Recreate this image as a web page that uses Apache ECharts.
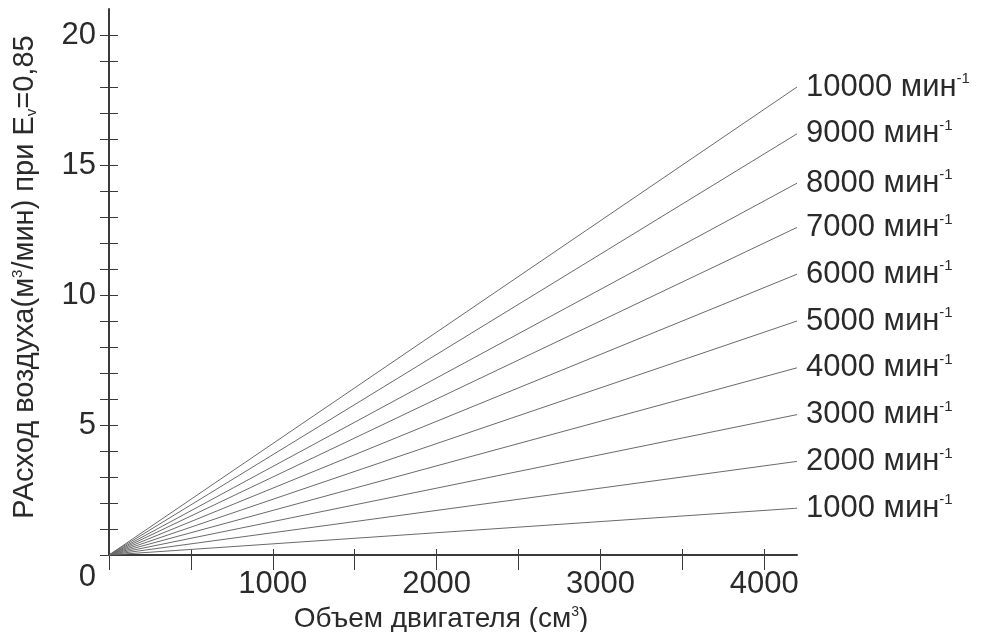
<!DOCTYPE html>
<html>
<head>
<meta charset="utf-8">
<script src="https://cdn.jsdelivr.net/npm/echarts@6/dist/echarts.min.js"></script>
<style>
  html, body { margin: 0; padding: 0; background: #fff; }
  #chart { width: 994px; height: 632px; }
</style>
</head>
<body>
<div id="chart"></div>
<script>
// частота вращения, мин-1
var speeds = [1000, 2000, 3000, 4000, 5000, 6000, 7000, 8000, 9000, 10000];
// объем двигателя, см3 (начало и конец каждой линии)
var volumes = [0, 4200];
// расход воздуха в конце линии (при 4200 см3), м3/мин
var endFlow = [1.8, 3.6, 5.4, 7.2, 9.0, 10.8, 12.6, 14.3, 16.2, 18.0];

var xTicks = [0, 500, 1000, 1500, 2000, 2500, 3000, 3500, 4000];
var xLabels = [1000, 2000, 3000, 4000];
var yTicks = [0, 1, 2, 3, 4, 5, 6, 7, 8, 9, 10, 11, 12, 13, 14, 15, 16, 17, 18, 19, 20];
var yLabels = [0, 5, 10, 15, 20];

var font = '"Liberation Sans", Arial, sans-serif';
var txt = '#2a2a2a';
var axisColor = '#3a3a3a';

var chart = echarts.init(document.getElementById('chart'));

var series = speeds.map(function (n, i) {
    return {
        name: n + '',
        type: 'line',
        showSymbol: false,
        silent: true,
        lineStyle: { color: '#6a6a6a', width: 1 },
        data: [[volumes[0], 0], [volumes[1], endFlow[i]]],
        endLabel: {
            show: true,
            distance: 9,
            formatter: function () { return '{a|' + n + ' мин}{s|-1}'; },
            rich: {
                a: { fontFamily: font, fontSize: 31, color: txt },
                s: { fontFamily: font, fontSize: 15, color: txt, verticalAlign: 'top' }
            }
        }
    };
});

function xAxisBase(inside) {
    return {
        type: 'value',
        position: 'bottom',
        min: 0,
        max: 4200,
        axisLine: { show: !inside, onZero: false, lineStyle: { color: axisColor, width: 2 } },
        axisTick: {
            show: true, inside: inside, length: inside ? 6 : 15,
            customValues: xTicks,
            lineStyle: { color: axisColor, width: 1 }
        },
        axisLabel: {
            show: !inside,
            customValues: xLabels,
            margin: 14,
            formatter: function (v) { return String(v); },
            fontFamily: font, fontSize: 31, color: txt
        },
        splitLine: { show: false }
    };
}

function yAxisBase(inside) {
    return {
        type: 'value',
        position: 'left',
        min: 0,
        max: 21,
        axisLine: { show: !inside, onZero: false, lineStyle: { color: axisColor, width: 2 } },
        axisTick: {
            show: true, inside: inside, length: 9,
            customValues: yTicks,
            lineStyle: { color: axisColor, width: 1 }
        },
        axisLabel: {
            show: !inside,
            customValues: yLabels,
            margin: 13,
            formatter: function (v) { return v === 0 ? '{z|0}' : String(v); },
            rich: { z: { fontFamily: font, fontSize: 31, color: txt, padding: [44, 0, 0, 0] } },
            fontFamily: font, fontSize: 31, color: txt
        },
        splitLine: { show: false }
    };
}

var xMain = xAxisBase(false);
xMain.name = '{a|Объем двигателя (см}{s|3}{a|)}';
xMain.nameLocation = 'middle';
xMain.nameGap = 49;
xMain.nameTextStyle = {
    padding: [0, 24, 0, 0],
    rich: {
        a: { fontFamily: font, fontSize: 28, color: txt },
        s: { fontFamily: font, fontSize: 14, color: txt, verticalAlign: 'top' }
    }
};

var yMain = yAxisBase(false);
yMain.name = '{a|РАсход воздуха(м}{s|3}{a|/мин) при E}{b|v}{a|=0,85}';
yMain.nameLocation = 'middle';
yMain.nameRotate = 90;
yMain.nameGap = 70;
yMain.nameTextStyle = {
    padding: [0, 0, 0, 10],
    rich: {
        a: { fontFamily: font, fontSize: 29, color: txt },
        s: { fontFamily: font, fontSize: 15, color: txt, verticalAlign: 'top' },
        b: { fontFamily: font, fontSize: 15, color: txt, verticalAlign: 'bottom' }
    }
};

chart.setOption({
    backgroundColor: '#ffffff',
    animation: false,
    grid: { left: 109, right: 197, top: 9, bottom: 77, containLabel: false, outerBoundsMode: 'none' },
    xAxis: [xMain, xAxisBase(true)],
    yAxis: [yMain, yAxisBase(true)],
    series: series
});
</script>
</body>
</html>
